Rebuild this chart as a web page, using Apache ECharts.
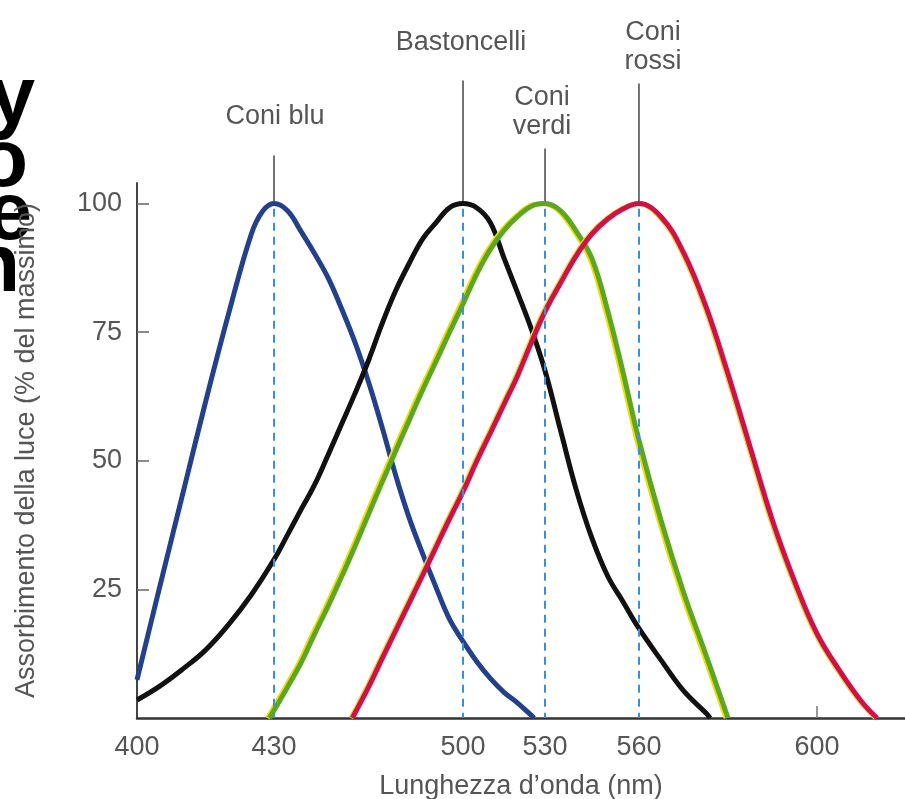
<!DOCTYPE html>
<html>
<head>
<meta charset="utf-8">
<script src="https://cdn.jsdelivr.net/npm/echarts@6/dist/echarts.min.js"></script>
<style>
  html, body { margin: 0; padding: 0; background: #fff; }
  #chart { width: 905px; height: 799px; }
</style>
</head>
<body>
<div id="chart"></div>
<script>
// wavelength ticks as printed, and where the figure puts them (% of axis length)
const waveTicks = [400, 430, 500, 530, 560, 600]
const tickShare = [0, 17.84, 42.45, 53.13, 65.36, 88.54]
const absTicks = [25, 50, 75, 100]

// [nm, % of max absorption]
const coniBlu = [[400, 7.4], [405, 25.6], [410, 43.5], [415, 61.4], [420, 78.4], [425, 94], [427.5, 98.5],
  [430, 100], [435, 98.6], [440, 94.6], [445, 90.3], [450, 85.6], [455, 79.6], [460, 73], [465, 65.3],
  [470, 56.6], [475, 47.3], [480, 39], [485, 32], [490, 25.4], [495, 19.2], [500, 14.9], [505, 11],
  [510, 7.7], [515, 5], [520, 2.9], [524, 1], [526, 0]]
const bastoncelli = [[400, 3.5], [405, 6.2], [410, 9.5], [415, 13.2], [420, 18.1], [425, 23.9], [430, 30.8],
  [435, 35.6], [440, 40.5], [445, 45.3], [450, 51.1], [455, 57.1], [460, 63.1], [465, 69.5], [470, 76.6],
  [475, 83], [480, 88.3], [485, 93.1], [490, 96.3], [495, 99.2], [500, 100], [505, 99.2], [510, 96.3],
  [515, 89.4], [520, 82.6], [525, 75.6], [530, 67.5], [535, 55.8], [540, 44.3], [545, 34.9], [550, 27.6],
  [555, 22.5], [560, 17.4], [565, 11.2], [570, 5.3], [575, 1], [576, 0]]
const coniVerdi = [[429, 0], [435, 6], [440, 10.7], [445, 16.3], [450, 21.7], [455, 27.4], [460, 33.4],
  [465, 39.6], [470, 45.8], [475, 51.8], [480, 57.8], [485, 63.7], [490, 69.3], [495, 75], [500, 80.5],
  [505, 86.3], [510, 91.1], [515, 94.8], [520, 97.5], [525, 99.5], [530, 100], [535, 98.6], [540, 94.6],
  [545, 89.3], [550, 79.2], [555, 67], [560, 54], [565, 38.3], [570, 24.5], [575, 12.4], [580, 0]]
const coniRossi = [[459, 0], [465, 6], [470, 11.5], [475, 16.9], [480, 22.3], [485, 27.7], [490, 33.2],
  [495, 38.7], [500, 44], [505, 49.9], [510, 55.4], [515, 61], [520, 66.6], [525, 73], [530, 79], [535, 84.6],
  [540, 89.9], [545, 94.1], [550, 97], [555, 99], [560, 100], [565, 97.4], [570, 90.5], [575, 80.1], [580, 66.9],
  [585, 52.6], [590, 38.4], [595, 26.5], [600, 16.4], [605, 9.3], [610, 3.2], [613.5, 0]]

const peakNm = [430, 500, 530, 560]
const peakNames = ['Coni blu', 'Bastoncelli', 'Coni\nverdi', 'Coni\nrossi']

// the figure's wavelength axis is not uniform: piecewise-linear between printed ticks
const warp = (nm) => {
  let i = 0
  while (i < waveTicks.length - 2 && nm > waveTicks[i + 1]) i++
  const t = (nm - waveTicks[i]) / (waveTicks[i + 1] - waveTicks[i])
  return tickShare[i] + t * (tickShare[i + 1] - tickShare[i])
}
const toPts = (arr) => arr.map(([nm, v]) => [warp(nm), v])
const labelOf = (v) => {
  const i = waveTicks.findIndex((nm) => Math.abs(warp(nm) - v) < 0.01)
  return i >= 0 ? String(waveTicks[i]) : ''
}

const font = 'Liberation Sans'
const grey = '#555'
const fs = 27

const chart = echarts.init(document.getElementById('chart'))

const curve = (name, data, color, extra) => ({
  name,
  type: 'line',
  data: toPts(data),
  smooth: 0.4,
  showSymbol: false,
  z: 3,
  lineStyle: Object.assign({ color, width: 5 }, extra || {}),
})

chart.setOption({
  animation: false,
  grid: { left: 137, right: 0, top: 183, bottom: 81, outerBoundsMode: 'none' },
  xAxis: {
    type: 'value',
    min: 0,
    max: 100,
    name: 'Lunghezza d\u2019onda (nm)',
    nameLocation: 'middle',
    nameGap: 55,
    nameTextStyle: { color: grey, fontSize: fs, fontFamily: font },
    axisLine: { lineStyle: { color: '#333', width: 2.5 } },
    axisTick: { inside: true, length: 12, lineStyle: { color: '#777', width: 1.5 }, customValues: [warp(600)] },
    axisLabel: {
      customValues: waveTicks.map(warp),
      formatter: labelOf,
      color: grey,
      fontSize: fs,
      fontFamily: font,
      margin: 16,
    },
    splitLine: { show: false },
  },
  yAxis: {
    type: 'value',
    min: 0,
    max: 104,
    name: 'Assorbimento della luce (% del massimo)',
    nameLocation: 'middle',
    nameGap: 97,
    nameTextStyle: { color: grey, fontSize: fs, fontFamily: font },
    axisLine: { show: true, lineStyle: { color: '#444', width: 2 } },
    axisTick: { inside: true, length: 12, lineStyle: { color: '#666', width: 1.5 }, customValues: absTicks },
    axisLabel: { customValues: absTicks, color: grey, fontSize: fs, fontFamily: font, margin: 15 },
    splitLine: { show: false },
  },
  series: [
    {
      type: 'line',
      data: [],
      z: 1,
      markLine: {
        silent: true,
        symbol: 'none',
        label: { show: false },
        lineStyle: { color: '#3f8fd4', width: 2, type: [8, 6] },
        data: peakNm.map((nm) => [{ coord: [warp(nm), 99] }, { coord: [warp(nm), 0] }]),
      },
    },
    curve('Coni blu', coniBlu, '#22408c'),
    curve('Bastoncelli', bastoncelli, '#111'),
    curve('Coni verdi', coniVerdi, '#5ea527', { shadowColor: '#e8e400', shadowOffsetX: -2 }),
    curve('Coni rossi', coniRossi, '#cf1148', { shadowColor: '#f3d24a', shadowOffsetX: -1.5 }),
  ],
})

// leader lines and captions above each peak
const leaderLen = [48, 123, 55, 120]
const captionGap = [25, 24, 8, 8]
const captionDx = [1, -2, -3, 14]
const graphic = []
peakNm.forEach((nm, i) => {
  const [px, py] = chart.convertToPixel({ gridIndex: 0 }, [warp(nm), 100])
  const top = py - leaderLen[i]
  graphic.push({
    type: 'line',
    shape: { x1: px, y1: py, x2: px, y2: top },
    style: { stroke: '#444', lineWidth: 1.5 },
    z: 2,
  })
  graphic.push({
    type: 'text',
    x: px + captionDx[i],
    y: top - captionGap[i],
    style: {
      text: peakNames[i],
      fill: grey,
      font: fs + 'px "' + font + '"',
      align: 'center',
      verticalAlign: 'bottom',
      lineHeight: 29,
    },
  })
})

// cropped slide heading at the left edge
const headLetters = ['y', 'o', 'e', 'n']
const headY = [100, 163, 216, 268]
const headRight = [35, 28, 32, 20]
headLetters.forEach((ch, i) => {
  graphic.push({
    type: 'text',
    x: headRight[i],
    y: headY[i],
    style: { text: ch, fill: '#000', font: 'bold 82px "' + font + '"', align: 'right', verticalAlign: 'middle' },
  })
})

chart.setOption({ graphic })
</script>
</body>
</html>
